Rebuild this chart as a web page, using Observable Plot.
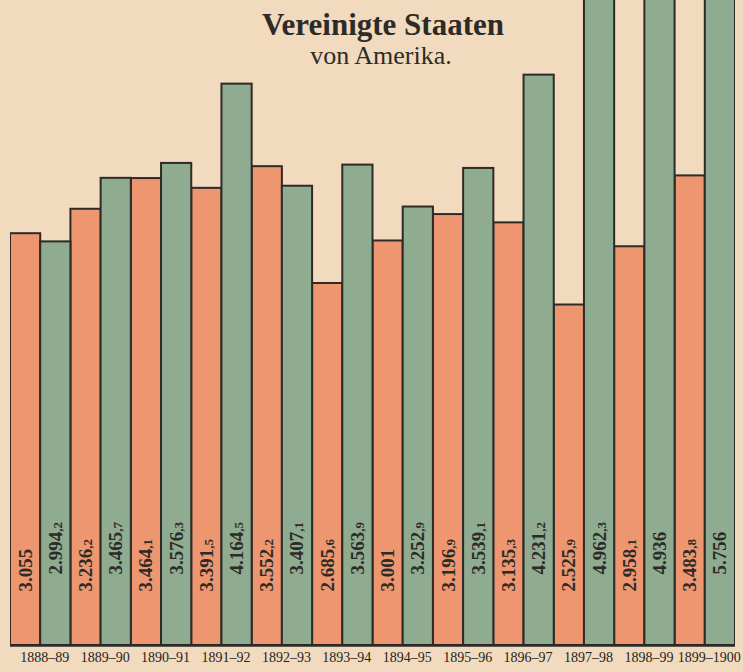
<!DOCTYPE html>
<html>
<head>
<meta charset="utf-8">
<script src="https://cdn.jsdelivr.net/npm/d3@7"></script>
<script src="https://cdn.jsdelivr.net/npm/@observablehq/plot@0.6"></script>
<style>
  html, body { margin: 0; padding: 0; background: #f1dabd; }
  #chart svg { display: block; }
</style>
</head>
<body>
<div id="chart"></div>
<script>
// Handelsjahre (Juli–Juni)
const jahre = ["1888–89", "1889–90", "1890–91", "1891–92", "1892–93", "1893–94",
               "1894–95", "1895–96", "1896–97", "1897–98", "1898–99", "1899–1900"];
// Einfuhr und Ausfuhr in Millionen Mark
const einfuhr = [3055, 3236.2, 3464.1, 3391.5, 3552.2, 2685.6, 3001, 3196.9, 3135.3, 2525.9, 2958.1, 3483.8];
const ausfuhr = [2994.2, 3465.7, 3576.3, 4164.5, 3407.1, 3563.9, 3252.9, 3539.1, 4231.2, 4962.3, 4936, 5756];

const titel = "Vereinigte Staaten";
const untertitel = "von Amerika.";

const rows = jahre.map((jahr, i) => ({jahr, einfuhr: einfuhr[i], ausfuhr: ausfuhr[i]}));

const W = 743, H = 672;
const mL = 10, mR = 8, mT = 0, mB = 27;
const band = (W - mL - mR) / jahre.length;

const orange = "#ee9670";
const gruen = "#8fac91";
const tinte = "#2d2b28";

// "3.236,2": Tausenderpunkt, Dezimalstelle nach dem Komma
function zahl(v) {
  const ganz = Math.floor(v);
  const dez = Math.round((v - ganz) * 10);
  const s = Math.floor(ganz / 1000) + "." + String(ganz % 1000).padStart(3, "0");
  return dez ? s + "," + dez : s;
}

// senkrechte Zahlen, Grundlinie rechts, Ziffern mittig in der Säule
const wertText = {
  frameAnchor: "bottom",
  rotate: -90,
  textAnchor: "start",
  lineAnchor: "bottom",
  fontSize: 19,
  fontWeight: "bold",
  fill: tinte
};

const chart = Plot.plot({
  width: W,
  height: H,
  marginLeft: mL,
  marginRight: mR,
  marginTop: mT,
  marginBottom: mB,
  style: {
    background: "#f1dabd",
    fontFamily: "'Liberation Serif', 'DejaVu Serif', serif",
    fontSize: "14px",
    color: "#333"
  },
  x: {domain: jahre, padding: 0, round: false, axis: null},
  y: {domain: [0, 4785], axis: null},
  marks: [
    Plot.barY(rows, {x: "jahr", y: "einfuhr", fill: orange, stroke: tinte, strokeWidth: 2,
                     insetRight: band / 2, clip: true}),
    Plot.barY(rows, {x: "jahr", y: "ausfuhr", fill: gruen, stroke: tinte, strokeWidth: 2,
                     insetLeft: band / 2, clip: true}),
    Plot.ruleY([0], {stroke: tinte, strokeWidth: 2.5}),
    Plot.text(rows, {...wertText, x: "jahr", text: d => zahl(d.einfuhr), dx: -band / 4 + 6, dy: -54}),
    Plot.text(rows, {...wertText, x: "jahr", text: d => zahl(d.ausfuhr), dx: band / 4 + 6, dy: -71}),
    // Jahresbeschriftung unter jedem Säulenpaar
    Plot.text(jahre, {x: d => d, text: d => d, frameAnchor: "bottom", lineAnchor: "top",
                      dy: 7, dx: 4, fontSize: 14, fill: "#262422"}),
    Plot.text([titel], {text: d => d, frameAnchor: "top", dx: 10, dy: 34, lineAnchor: "bottom",
                        fontSize: 31, fontWeight: "bold", fill: tinte}),
    Plot.text([untertitel], {text: d => d, frameAnchor: "top", dx: 8, dy: 63, lineAnchor: "bottom",
                             fontSize: 26, fill: tinte})
  ]
});

// Dezimalstelle kleiner setzen
chart.querySelectorAll("text").forEach(t => {
  const m = /^(\d\.\d{3})(,\d)$/.exec(t.textContent);
  if (!m) return;
  t.textContent = m[1];
  const klein = document.createElementNS("http://www.w3.org/2000/svg", "tspan");
  klein.setAttribute("font-size", "13");
  klein.textContent = m[2];
  t.appendChild(klein);
});

document.getElementById("chart").appendChild(chart);
</script>
</body>
</html>
